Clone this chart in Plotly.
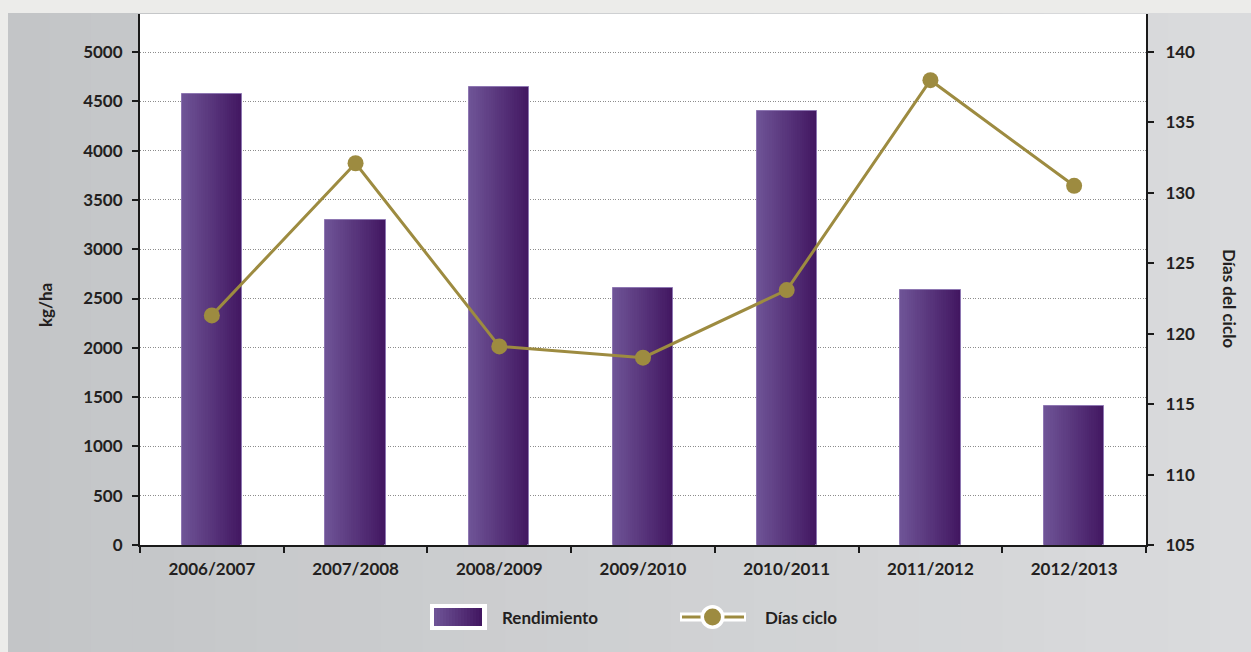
import plotly.graph_objects as go

# ---------------- data ----------------
categories = ["2006/2007", "2007/2008", "2008/2009", "2009/2010",
              "2010/2011", "2011/2012", "2012/2013"]
rendimiento = [4570, 3300, 4650, 2610, 4400, 2590, 1410]   # kg/ha
dias_ciclo = [121.3, 132.1, 119.1, 118.3, 123.1, 138.0, 130.5]
left_ticks = [0, 500, 1000, 1500, 2000, 2500, 3000, 3500, 4000, 4500, 5000]
right_ticks = [105, 110, 115, 120, 125, 130, 135, 140]
series_names = ["Rendimiento", "Días ciclo"]

# ---------------- layout constants ----------------
W, H = 1251, 652
ML, MR, MT, MB = 140, 105, 14, 107
PW, PH = W - ML - MR, H - MT - MB

FONT = "Lato"
FS = 17
TXT = "#231f20"
BAR_W = 0.42
LIGHT = (110, 83, 150)
DARK = (66, 23, 97)
GOLD = "#9d8b40"


def px_x(p):
    return (p - ML) / PW


def px_y(p):
    return (H - MB - p) / PH


def mix(a, b, t):
    return "rgb(%d,%d,%d)" % tuple(round(a[i] + (b[i] - a[i]) * t) for i in range(3))


def bold(size=FS):
    return dict(family=FONT, size=size, color=TXT, weight="bold")


fig = go.Figure()

# gradient bars: overlaid bars sharing the left edge, narrowing widths
N = 28
for i in range(N):
    w = BAR_W * (1 - i / N)
    t = i / (N - 1)
    fig.add_trace(go.Bar(
        x=categories, y=rendimiento,
        width=w, offset=-BAR_W / 2,
        marker=dict(color=mix(DARK, LIGHT, t),
                    line=dict(width=1 if i == 0 else 0, color="#8e77b2")),
        name=series_names[0], showlegend=False, hoverinfo="skip",
        yaxis="y",
    ))

fig.add_trace(go.Scatter(
    x=categories, y=dias_ciclo, yaxis="y2", name=series_names[1],
    mode="lines+markers", showlegend=False,
    line=dict(color=GOLD, width=3),
    marker=dict(color=GOLD, size=16),
))

# ---------------- background ----------------
shapes = []
shapes.append(dict(type="rect", xref="paper", yref="paper", layer="below",
                   x0=px_x(0), x1=px_x(W), y0=px_y(13), y1=px_y(0),
                   fillcolor="#ececea", line=dict(width=0)))
shapes.append(dict(type="rect", xref="paper", yref="paper", layer="below",
                   x0=px_x(0), x1=px_x(8), y0=px_y(H), y1=px_y(0),
                   fillcolor="#ececea", line=dict(width=0)))
S = 30
c0, c1 = (195, 197, 199), (218, 219, 221)
for i in range(S):
    a = 8 + (W - 8) * i / S
    b = 8 + (W - 8) * (i + 1) / S + 1
    shapes.append(dict(type="rect", xref="paper", yref="paper", layer="below",
                       x0=px_x(a), x1=px_x(b), y0=px_y(H), y1=px_y(13),
                       fillcolor=mix(c0, c1, i / (S - 1)), line=dict(width=0)))
shapes.append(dict(type="rect", xref="paper", yref="paper", layer="below",
                   x0=0, x1=1, y0=0, y1=1, fillcolor="white", line=dict(width=0)))

# ---------------- legend (drawn) ----------------
LY = 617
shapes.append(dict(type="rect", xref="paper", yref="paper",
                   x0=px_x(430), x1=px_x(487), y0=px_y(630), y1=px_y(604),
                   fillcolor="white", line=dict(width=0)))
G = 16
for i in range(G):
    a = 434 + (482 - 434) * i / G
    b = 434 + (482 - 434) * (i + 1) / G + 0.6
    shapes.append(dict(type="rect", xref="paper", yref="paper",
                       x0=px_x(a), x1=px_x(min(b, 482)), y0=px_y(626), y1=px_y(608),
                       fillcolor=mix(LIGHT, DARK, i / (G - 1)), line=dict(width=0)))
shapes.append(dict(type="line", xref="paper", yref="paper",
                   x0=px_x(680), x1=px_x(746), y0=px_y(LY), y1=px_y(LY),
                   line=dict(color="white", width=9)))
shapes.append(dict(type="line", xref="paper", yref="paper",
                   x0=px_x(682), x1=px_x(744), y0=px_y(LY), y1=px_y(LY),
                   line=dict(color=GOLD, width=3)))
shapes.append(dict(type="circle", xref="paper", yref="paper",
                   x0=px_x(700.5), x1=px_x(724.5), y0=px_y(629), y1=px_y(605),
                   fillcolor="white", line=dict(width=0)))
shapes.append(dict(type="circle", xref="paper", yref="paper",
                   x0=px_x(704), x1=px_x(721), y0=px_y(625.5), y1=px_y(608.5),
                   fillcolor=GOLD, line=dict(width=0)))

ann = [
    dict(text="kg/ha", xref="paper", yref="paper", x=px_x(46), y=px_y(305),
         xanchor="center", yanchor="middle",
         showarrow=False, textangle=-90, font=bold(17)),
    dict(text="Días del ciclo", xref="paper", yref="paper", x=px_x(1230), y=px_y(298),
         xanchor="center", yanchor="middle",
         showarrow=False, textangle=90, font=bold(17)),
    dict(text=series_names[0], xref="paper", yref="paper", x=px_x(500), y=px_y(LY),
         xanchor="left", yanchor="middle", showarrow=False, font=bold(17)),
    dict(text=series_names[1], xref="paper", yref="paper", x=px_x(763), y=px_y(LY),
         xanchor="left", yanchor="middle", showarrow=False, font=bold(17)),
]

fig.update_layout(
    width=W, height=H,
    margin=dict(l=ML, r=MR, t=MT, b=MB, pad=0),
    paper_bgcolor="#d3d5d7",
    plot_bgcolor="rgba(0,0,0,0)",
    barmode="overlay",
    bargap=0,
    shapes=shapes,
    annotations=ann,
    font=bold(),
    showlegend=False,
    xaxis=dict(
        type="category", range=[-0.5, 6.5],
        showline=True, linecolor="#1a1a1a", linewidth=2,
        ticks="outside", ticklen=6, tickwidth=2, tickcolor="#1a1a1a",
        tickson="boundaries", showgrid=False, zeroline=False,
        ticklabelstandoff=8, tickfont=bold(),
    ),
    yaxis=dict(
        range=[0, (H - MB - MT) / ((H - MB - 52) / 5000)],
        tickvals=left_ticks,
        showline=True, linecolor="#1a1a1a", linewidth=2,
        ticks="outside", ticklen=6, tickwidth=2, tickcolor="#1a1a1a",
        showgrid=True, gridcolor="#8c8c8c", griddash="1px,1.5px", gridwidth=1,
        zeroline=False, ticklabelstandoff=6, tickfont=bold(),
    ),
    yaxis2=dict(
        overlaying="y", side="right",
        range=[105, 105 + (H - MB - MT) / ((H - MB - 52) / 35)],
        tickvals=right_ticks,
        showline=True, linecolor="#1a1a1a", linewidth=2,
        ticks="outside", ticklen=6, tickwidth=2, tickcolor="#1a1a1a",
        showgrid=False, zeroline=False, ticklabelstandoff=8, tickfont=bold(),
    ),
)

fig.write_html("out.html")
